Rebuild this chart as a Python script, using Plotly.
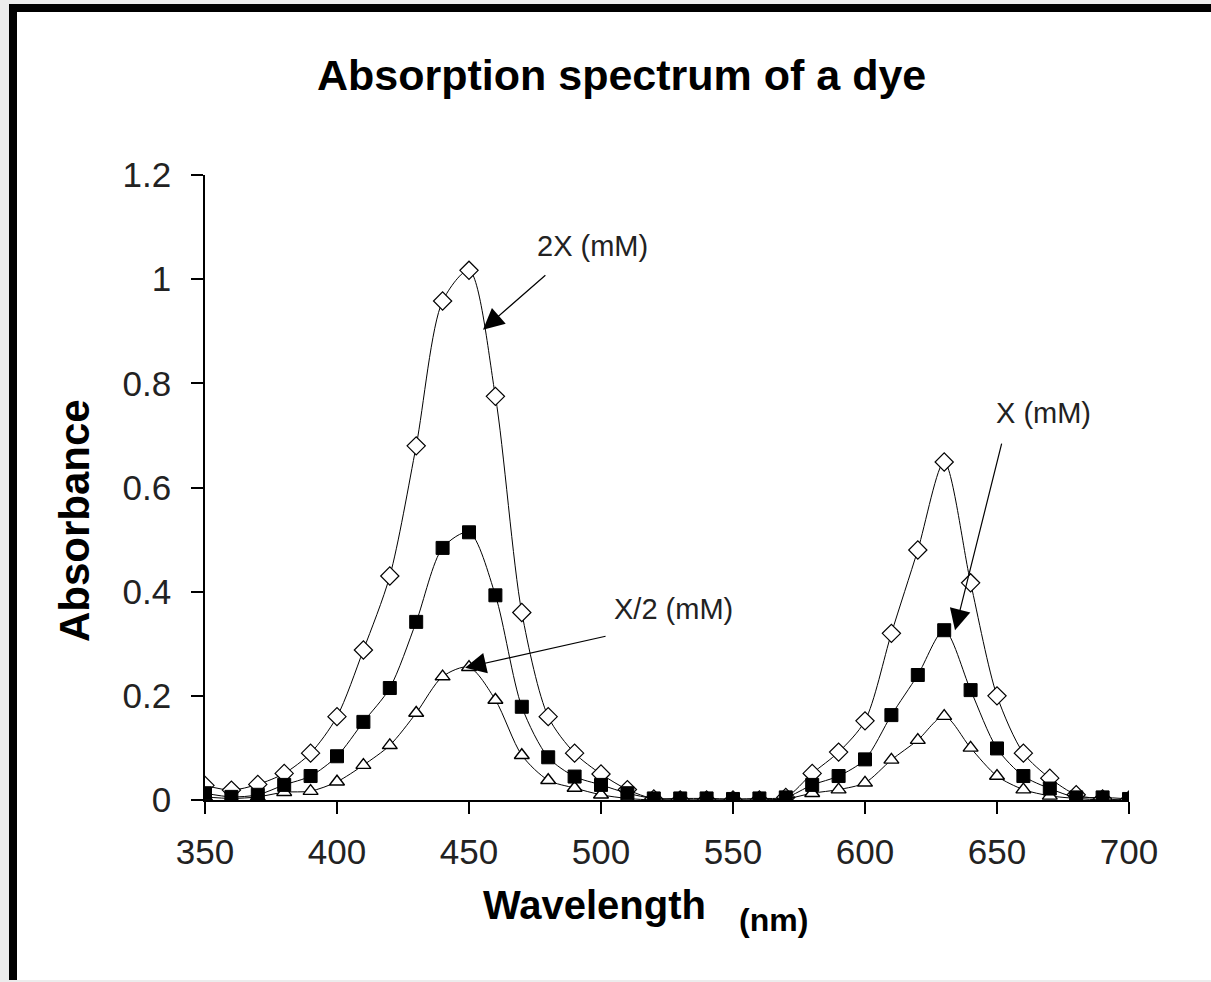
import plotly.graph_objects as go

# wavelength (nm)
wavelength = [350, 360, 370, 380, 390, 400, 410, 420, 430, 440, 450, 460,
              470, 480, 490, 500, 510, 520, 530, 540, 550, 560, 570, 580,
              590, 600, 610, 620, 630, 640, 650, 660, 670, 680, 690, 700]

abs_2x = [0.028, 0.019, 0.030, 0.051, 0.090, 0.160, 0.288, 0.430, 0.680, 0.958, 1.017, 0.775,
          0.360, 0.160, 0.090, 0.050, 0.020, 0.002, 0.000, 0.000, 0.000, 0.000, 0.005, 0.051,
          0.092, 0.152, 0.320, 0.480, 0.649, 0.417, 0.200, 0.090, 0.042, 0.010, 0.002, 0.000]

abs_x = [0.013, 0.006, 0.010, 0.029, 0.046, 0.084, 0.150, 0.215, 0.342, 0.484, 0.514, 0.393,
         0.179, 0.082, 0.045, 0.029, 0.013, 0.003, 0.003, 0.003, 0.002, 0.003, 0.005, 0.029,
         0.046, 0.078, 0.163, 0.240, 0.326, 0.211, 0.099, 0.046, 0.022, 0.005, 0.005, 0.002]

abs_half = [0.006, 0.003, 0.006, 0.015, 0.017, 0.035, 0.067, 0.105, 0.167, 0.237, 0.255, 0.192,
            0.086, 0.038, 0.023, 0.010, 0.003, 0.000, 0.000, 0.000, 0.000, 0.000, 0.002, 0.013,
            0.020, 0.033, 0.077, 0.115, 0.161, 0.100, 0.046, 0.020, 0.008, 0.003, 0.000, 0.000]

x_ticks = [350, 400, 450, 500, 550, 600, 650, 700]
y_ticks = [0, 0.2, 0.4, 0.6, 0.8, 1.0, 1.2]
y_ticktext = ["0", "0.2", "0.4", "0.6", "0.8", "1", "1.2"]

W, H = 1211, 982
L, R, T, B = 205, 82, 175, 182


def px(x, y):
    # pixel position -> paper coords
    return (x - L) / (W - L - R), (H - B - y) / (H - T - B)


fig = go.Figure()

line = dict(color="black", width=1, shape="spline", smoothing=0.8)
fig.add_trace(go.Scatter(x=wavelength, y=abs_2x, mode="lines+markers", name="2X (mM)",
    line=line, marker=dict(symbol="diamond", size=14, color="white",
                           line=dict(color="black", width=1.2))))
fig.add_trace(go.Scatter(x=wavelength, y=abs_half, mode="lines+markers", name="X/2 (mM)",
    line=line, marker=dict(symbol="triangle-up", size=13, color="white",
                           line=dict(color="black", width=1.4))))
fig.add_trace(go.Scatter(x=wavelength, y=abs_x, mode="lines+markers", name="X (mM)",
    line=line, marker=dict(symbol="square", size=13, color="black",
                           line=dict(color="black", width=1))))

lab_font = dict(family="Liberation Sans, Arial, sans-serif", size=29, color="#222")
ann = []
# series labels with arrows (tail, tip in data coords)
arrows = [
    ("2X (mM)", 479.5, 1.010, 455.3, 0.903, 592, 246),
    ("X/2 (mM)", 502.3, 0.315, 448.5, 0.254, 673, 609),
    ("X (mM)", 651.9, 0.687, 634.1, 0.326, 1043, 413),
]
for txt, ax, ay, tx, ty, lx, ly in arrows:
    ann.append(dict(x=tx, y=ty, ax=ax, ay=ay, xref="x", yref="y", axref="x", ayref="y",
                    text="", showarrow=True, arrowhead=2, arrowsize=3.5,
                    arrowwidth=1.2, arrowcolor="black"))
    p = px(lx, ly)
    ann.append(dict(x=p[0], y=p[1], xref="paper", yref="paper", text=txt,
                    showarrow=False, font=lab_font, xanchor="center", yanchor="middle"))

bold = dict(family="Liberation Sans, Arial, sans-serif", color="black")
p = px(621, 75)
ann.append(dict(x=p[0], y=p[1], xref="paper", yref="paper",
                text="<b>Absorption spectrum of a dye</b>", showarrow=False,
                font=dict(bold, size=43), xanchor="center", yanchor="middle"))
p = px(74, 521)
ann.append(dict(x=p[0], y=p[1], xref="paper", yref="paper", text="<b>Absorbance</b>",
                textangle=-90, showarrow=False, font=dict(bold, size=42),
                xanchor="center", yanchor="middle"))
p = px(594, 905)
ann.append(dict(x=p[0], y=p[1], xref="paper", yref="paper", text="<b>Wavelength</b>",
                showarrow=False, font=dict(bold, size=40), xanchor="center", yanchor="middle"))
p = px(773, 920)
ann.append(dict(x=p[0], y=p[1], xref="paper", yref="paper", text="<b>(nm)</b>",
                showarrow=False, font=dict(bold, size=32), xanchor="center", yanchor="middle"))

# frame: grey surround with black top/left edge
def rect(x0, y0, x1, y1, col):
    a, b = px(x0, y0)
    c, d = px(x1, y1)
    return dict(type="rect", xref="paper", yref="paper", x0=a, y0=b, x1=c, y1=d,
                fillcolor=col, line_width=0, layer="below")

shapes = [
    rect(0, 0, 9, H, "#ececec"),
    rect(0, 0, W, 4, "#ececec"),
    rect(0, 980, W, H, "#ececec"),
    rect(9, 4, 17, 980, "black"),
    rect(9, 4, W, 12, "black"),
]

tick_font = dict(family="Liberation Sans, Arial, sans-serif", size=35, color="#222")
fig.update_layout(
    width=W, height=H,
    margin=dict(l=L, r=R, t=T, b=B),
    paper_bgcolor="white", plot_bgcolor="rgba(0,0,0,0)",
    showlegend=False,
    annotations=ann, shapes=shapes,
)
fig.update_xaxes(range=[350, 700], tickvals=x_ticks, ticks="outside", ticklen=12,
                 tickwidth=1.5, tickcolor="black", showline=True, linecolor="black",
                 linewidth=1.5, showgrid=False, zeroline=False, tickfont=tick_font,
                 ticklabelstandoff=8)
fig.update_yaxes(range=[0, 1.2], tickvals=y_ticks, ticktext=y_ticktext, ticks="outside",
                 ticklen=12, tickwidth=1.5, tickcolor="black", showline=True,
                 linecolor="black", linewidth=1.5, showgrid=False, zeroline=False,
                 tickfont=tick_font, ticklabelstandoff=13)

# drop the page's default body margin so the figure sits at the window origin
fig.write_html("out.html", config={"displayModeBar": False},
               post_script="document.body.style.margin='0';")
